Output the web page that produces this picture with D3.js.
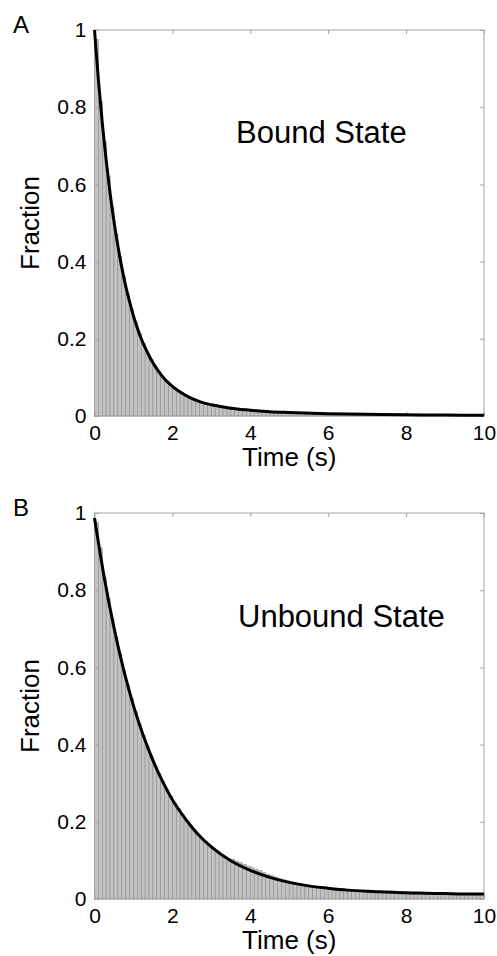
<!DOCTYPE html>
<html>
<head>
<meta charset="utf-8">
<script src="https://cdn.jsdelivr.net/npm/d3@7/dist/d3.min.js"></script>
<style>
  html, body { margin: 0; padding: 0; background: #fff; }
  svg { display: block; }
  text { font-family: "Liberation Sans", Arial, Helvetica, sans-serif; fill: #000; }
</style>
</head>
<body>
<svg id="chart" width="497" height="956"></svg>
<script>
// ---------------- data ----------------
const binWidth = 0.1;            // seconds per histogram bin
const xTicks = [0, 2, 4, 6, 8, 10];
const yTicks = [0, 0.2, 0.4, 0.6, 0.8, 1];
const xTickLabels = ["0", "2", "4", "6", "8", "10"];
const yTickLabels = ["0", "0.2", "0.4", "0.6", "0.8", "1"];

// Panel A: bound state dwell-time survival histogram (bins of 0.1 s, 0–10 s)
const barsA = [
  0.975, 0.815, 0.710, 0.620, 0.540, 0.472, 0.413, 0.361, 0.316, 0.277,
  0.243, 0.214, 0.188, 0.166, 0.147, 0.130, 0.115, 0.102, 0.091, 0.081,
  0.073, 0.066, 0.059, 0.054, 0.049, 0.045, 0.041, 0.037, 0.034, 0.031,
  0.029, 0.027, 0.025, 0.023, 0.022, 0.020, 0.019, 0.018, 0.017, 0.016,
  0.015, 0.014, 0.013, 0.013, 0.012, 0.011, 0.011, 0.010, 0.009, 0.008,
  0.007, 0.007, 0.006, 0.006, 0.006, 0.005, 0.005, 0.005, 0.004, 0.004,
  0.004, 0.004, 0.004, 0.003, 0.003, 0.003, 0.003, 0.003, 0.003, 0.003,
  0.003, 0.002, 0.002, 0.002, 0.002, 0.002, 0.002, 0.002, 0.002, 0.002,
  0.002, 0.002, 0.002, 0.002, 0.001, 0.001, 0.001, 0.001, 0.001, 0.001,
  0.001, 0.001, 0.001, 0.001, 0.001, 0.001, 0.001, 0.001, 0.001, 0.001
];
const fitTimesA = [0, 0.1, 0.2, 0.3, 0.4, 0.5, 0.6, 0.7, 0.8, 0.9, 1.0,
  1.1, 1.2, 1.3, 1.4, 1.5, 1.6, 1.7, 1.8, 1.9, 2.0,
  2.2, 2.4, 2.6, 2.8, 3.0, 3.5, 4, 4.5, 5, 6, 7, 8, 9, 10];
const fitValuesA = [1.000, 0.871, 0.759, 0.662, 0.577, 0.504, 0.441, 0.385, 0.337, 0.296, 0.259,
  0.228, 0.200, 0.177, 0.156, 0.138, 0.122, 0.108, 0.096, 0.086, 0.077,
  0.062, 0.050, 0.041, 0.034, 0.029, 0.020, 0.015, 0.011, 0.009, 0.006, 0.0045, 0.0033, 0.0024, 0.0018];

// Panel B: unbound state
const barsB = [
  0.975, 0.910, 0.833, 0.778, 0.727, 0.679, 0.635, 0.593, 0.555, 0.519,
  0.485, 0.453, 0.424, 0.397, 0.371, 0.347, 0.325, 0.304, 0.284, 0.266,
  0.249, 0.234, 0.219, 0.205, 0.192, 0.180, 0.169, 0.158, 0.149, 0.140,
  0.131, 0.123, 0.116, 0.109, 0.104, 0.102, 0.098, 0.094, 0.090, 0.085,
  0.081, 0.077, 0.073, 0.068, 0.064, 0.060, 0.057, 0.053, 0.050, 0.047,
  0.044, 0.041, 0.039, 0.036, 0.035, 0.033, 0.032, 0.030, 0.029, 0.028,
  0.027, 0.026, 0.025, 0.024, 0.023, 0.022, 0.021, 0.020, 0.019, 0.018,
  0.018, 0.017, 0.017, 0.016, 0.016, 0.015, 0.015, 0.014, 0.014, 0.014,
  0.013, 0.013, 0.013, 0.013, 0.012, 0.012, 0.012, 0.012, 0.012, 0.011,
  0.011, 0.011, 0.011, 0.011, 0.011, 0.011, 0.011, 0.011, 0.011, 0.011
];
const fitTimesB = [0, 0.25, 0.5, 0.75, 1.0, 1.25, 1.5, 1.75, 2.0, 2.25, 2.5, 2.75, 3.0,
  3.5, 4, 4.5, 5, 5.5, 6, 6.5, 7, 7.5, 8, 8.5, 9, 9.5, 10];
const fitValuesB = [0.987, 0.833, 0.703, 0.593, 0.501, 0.424, 0.359, 0.304, 0.257, 0.219, 0.186, 0.158, 0.135,
  0.099, 0.074, 0.056, 0.043, 0.034, 0.028, 0.023, 0.020, 0.018, 0.016, 0.015, 0.014, 0.013, 0.013];

const panels = [
  { letter: "A", title: "Bound State", bars: barsA, fitT: fitTimesA, fitV: fitValuesA, top: 30, titleX: 236, titleY: 143 },
  { letter: "B", title: "Unbound State", bars: barsB, fitT: fitTimesB, fitV: fitValuesB, top: 513, titleX: 238, titleY: 627 }
];

// ---------------- drawing ----------------
const svg = d3.select("#chart");
svg.append("rect").attr("width", 497).attr("height", 956).attr("fill", "#fff");

const left = 94.5, right = 484, plotH = 386;
const frameColor = "#a3a3a3";

panels.forEach(p => {
  const g = svg.append("g");
  const x = d3.scaleLinear().domain([0, 10]).range([left, right]);
  const y = d3.scaleLinear().domain([0, 1]).range([p.top + plotH, p.top]);

  // bars
  g.append("g").selectAll("rect").data(p.bars).join("rect")
    .attr("x", (d, i) => x(i * binWidth))
    .attr("width", x(binWidth) - x(0))
    .attr("y", d => y(d))
    .attr("height", d => y(0) - y(d))
    .attr("fill", "#c3c3c3")
    .attr("stroke", "#8e8e8e")
    .attr("stroke-width", 0.6);

  // frame
  g.append("rect")
    .attr("x", x(0)).attr("y", y(1))
    .attr("width", x(10) - x(0)).attr("height", y(0) - y(1))
    .attr("fill", "none").attr("stroke", frameColor).attr("stroke-width", 1);

  // axes with inward ticks
  const styleAxis = sel => {
    sel.select(".domain").remove();
    sel.selectAll(".tick line").attr("stroke", frameColor);
    sel.selectAll("text").attr("font-size", 21).attr("fill", "#000")
      .attr("font-family", "'Liberation Sans', Arial, sans-serif");
  };
  const bottom = g.append("g").attr("transform", `translate(0,${y(0)})`)
    .call(d3.axisBottom(x).tickValues(xTicks).tickFormat((d, i) => xTickLabels[i])
      .tickSizeInner(-4).tickSizeOuter(0).tickPadding(8))
    .call(styleAxis);
  bottom.selectAll("text").attr("y", 24).attr("dy", null);

  g.append("g").attr("transform", `translate(0,${y(1)})`)
    .call(d3.axisTop(x).tickValues(xTicks).tickFormat("").tickSizeInner(-4).tickSizeOuter(0))
    .call(styleAxis);

  g.append("g").attr("transform", `translate(${x(0)},0)`)
    .call(d3.axisLeft(y).tickValues(yTicks).tickFormat((d, i) => yTickLabels[i])
      .tickSizeInner(-4).tickSizeOuter(0).tickPadding(8))
    .call(styleAxis);

  g.append("g").attr("transform", `translate(${x(10)},0)`)
    .call(d3.axisRight(y).tickValues(yTicks).tickFormat("").tickSizeInner(-4).tickSizeOuter(0))
    .call(styleAxis);

  // fitted curve
  const line = d3.line()
    .x((d, i) => x(p.fitT[i]))
    .y(d => y(d))
    .curve(d3.curveMonotoneX);
  g.append("path").datum(p.fitV)
    .attr("d", line)
    .attr("fill", "none")
    .attr("stroke", "#000")
    .attr("stroke-width", 3)
    .attr("stroke-linejoin", "round");

  // labels
  g.append("text").attr("x", (x(0) + x(10)) / 2).attr("y", y(0) + 50)
    .attr("text-anchor", "middle").attr("font-size", 26).text("Time (s)");
  g.append("text")
    .attr("transform", `translate(39,${(y(0) + y(1)) / 2}) rotate(-90)`)
    .attr("text-anchor", "middle").attr("font-size", 26).text("Fraction");
  g.append("text").attr("x", p.titleX).attr("y", p.titleY)
    .attr("font-size", 31).text(p.title);
  g.append("text").attr("x", 13).attr("y", p.top + 3)
    .attr("font-size", 24).text(p.letter);
});
</script>
</body>
</html>
